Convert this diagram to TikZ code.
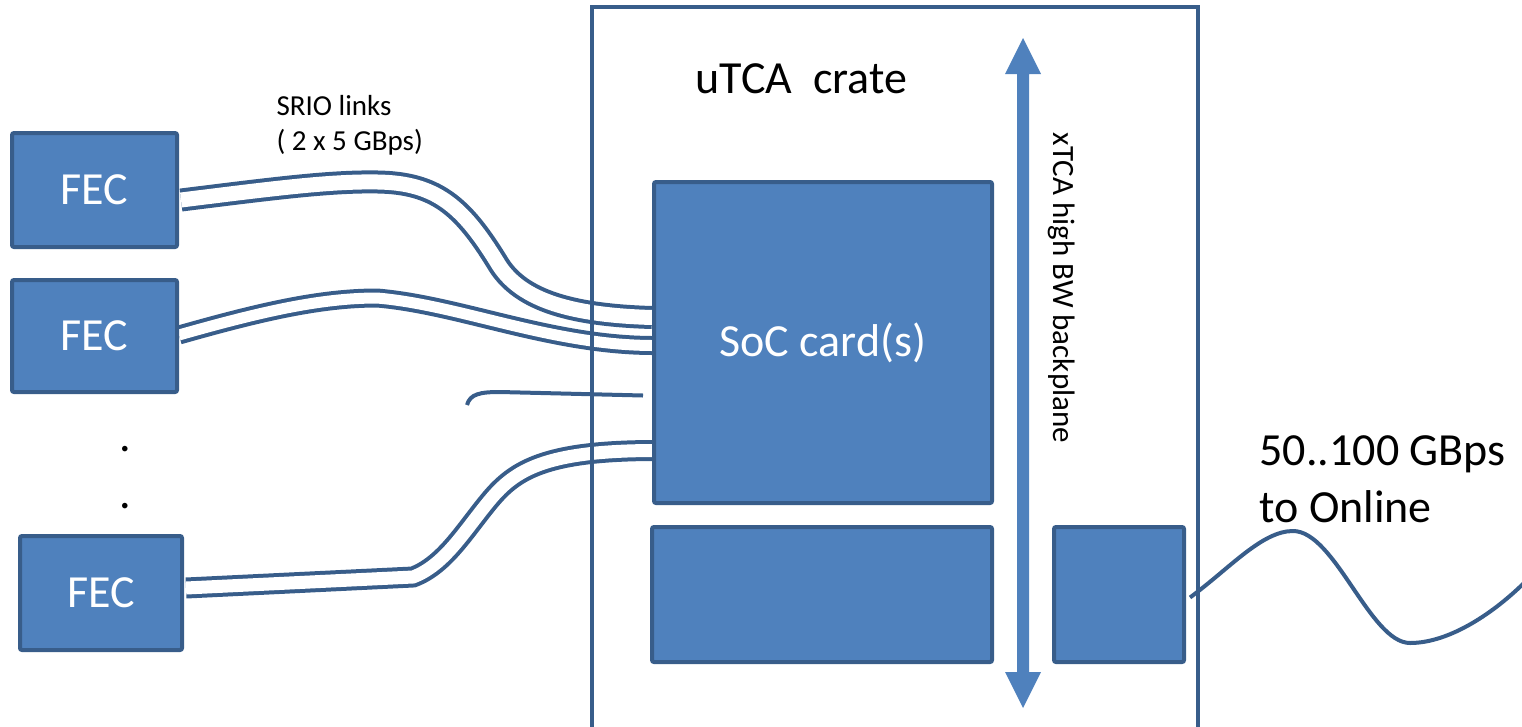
\documentclass[tikz,border=0pt]{standalone}
\usepackage{fontspec}
\setmainfont{Carlito}
\usetikzlibrary{calc,backgrounds}
\definecolor{boxfill}{HTML}{4F81BD}
\definecolor{boxline}{HTML}{385D8A}
\begin{document}
\begin{tikzpicture}[
    x=1pt, y=-1pt,
    card/.style={draw=boxline, fill=boxfill, line width=4pt, rounded corners=2pt,
                 text=white, font=\fontsize{46}{56}\selectfont, inner sep=0pt},
    cable/.style={draw=boxline, line width=4pt, double=white, double distance=12pt},
    wire/.style={draw=boxline, line width=4pt},
    big/.style={font=\fontsize{46}{57}\selectfont, align=left}]
  \useasboundingbox (0,0) rectangle (1522,726);
  % front-end cards
  \node[card, minimum width=165pt, minimum height=114pt] (fec1) at (94.5,190) {FEC};
  \node[card, minimum width=165pt, minimum height=112pt] (fec2) at (94.5,336) {FEC};
  \node[card, minimum width=162pt, minimum height=114pt] (fec3) at (101,593) {FEC};
  \node[big, anchor=base] (dot1) at (125,451) {.};
  \node[big, anchor=base] (dot2) at (125,508) {.};
  \node[font=\fontsize{29}{35}\selectfont, align=left, anchor=base west] (srio) at (273,150) {SRIO links\\( 2 x 5 GBps)};
  % crate and its cards
  \node[draw=boxline, line width=4.5pt, minimum width=606pt, minimum height=735pt, inner sep=0pt] (crate) at (895,374.5) {};
  \node[big, anchor=base west] (cratelabel) at (692,93) {uTCA~~crate};
  \node[card, minimum width=338pt, minimum height=321pt] (soc) at (823,342.5) {SoC card(s)};
  \node[card, minimum width=340pt, minimum height=135pt] (mch) at (822,594.5) {};
  \node[card, minimum width=130pt, minimum height=135pt] (uplink) at (1119,594.5) {};
  % backplane
  \fill[boxfill] (1017,74) -- (1005,74) -- (1023,38) -- (1041,74) -- (1029,74)
    -- (1029,672) -- (1041,672) -- (1023,708) -- (1005,672) -- (1017,672) -- cycle;
  \node[font=\fontsize{31}{38}\selectfont, rotate=-90] (bplabel) at (1062,288) {xTCA high BW backplane};
  \node[big, anchor=base west] (ratelabel) at (1256,522) {50..100 GBps\\to Online};
  % links
  \begin{scope}[on background layer]
    \draw[cable, double distance=15pt] ($(fec1.east)+(2,10)$) .. controls (270,189) and (330,181) .. (378,182)
      .. controls (435,183) and (462,205) .. (497,262)
      .. controls (518,298) and (565,315) .. ($(soc.west)+(0,-25)$);
    \draw[cable, double distance=11pt] ($(fec2.east)+(0,-1)$) .. controls (260,312) and (320,298) .. (377,298)
      .. controls (460,305) and (550,345) .. ($(soc.west)+(0,3)$);
    \draw[cable, double distance=13pt] ($(fec3.east)+(2,-5)$) -- (413,577)
      .. controls (445,565) and (465,530) .. (490,500)
      .. controls (515,470) and (545,451) .. ($(soc.west)+(0,108)$);
    \coordinate (loose) at (467,405);
    \draw[wire] (loose) .. controls (470,394) and (480,392) .. (500,392) -- ($(soc.west)+(-9,53)$);
  \end{scope}
  \coordinate (online) at (1526,581);
  \draw[wire] ($(uplink.east)+(4,3)$) .. controls (1230,568) and (1262,531) .. (1293,531)
    .. controls (1335,531) and (1370,643) .. (1410,643)
    .. controls (1450,643) and (1495,612) .. (online);
\end{tikzpicture}
\end{document}
